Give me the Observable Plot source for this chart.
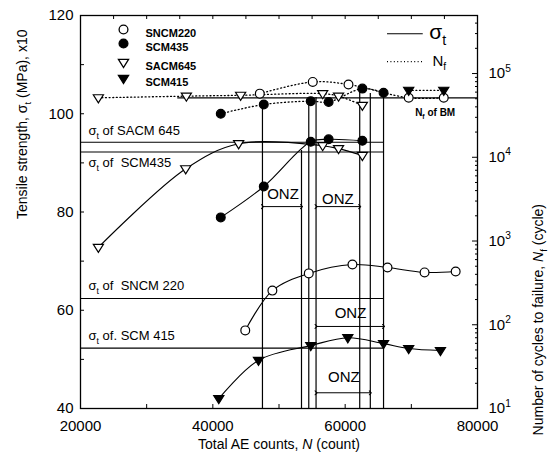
<!DOCTYPE html>
<html>
<head>
<meta charset="utf-8">
<script src="https://cdn.jsdelivr.net/npm/d3@7"></script>
<script src="https://cdn.jsdelivr.net/npm/@observablehq/plot@0.6"></script>
<style>
  html, body { margin: 0; padding: 0; background: #fff; }
  #chart svg { display: block; }
</style>
</head>
<body>
<div id="chart"></div>
<script>
// ---------- data ----------
// Tensile strength (sigma_t, MPa x10) against total AE counts N
const sncm220N  = [44900, 49000, 54500, 61100, 66400, 72000, 76700];
const sncm220St = [55.9, 64.0, 67.5, 69.3, 68.7, 67.7, 67.9];
const scm435N   = [41200, 47700, 54800, 57500, 62600];
const scm435St  = [78.9, 85.2, 94.3, 94.8, 94.5];
const sacm645N  = [22700, 35900, 43900, 56600, 59000, 62600];
const sacm645St = [72.8, 88.8, 93.9, 93.5, 92.9, 91.5];
const scm415N   = [40900, 46900, 54800, 60400, 65800, 69600, 74400];
const scm415St  = [42.0, 49.8, 52.8, 54.4, 53.2, 52.2, 51.8];

// Number of cycles to failure N_f against total AE counts N
const sncm220NfN = [47100, 55100, 60500, 69600, 74900];
const sncm220Nf  = [57500, 79400, 74100, 51300, 51300];
const scm435NfN  = [41200, 47700, 54800, 57500, 62600, 65800];
const scm435Nf   = [33100, 42700, 46800, 45700, 66100, 58900];
const sacm645NfN = [22700, 36000, 44200, 56600, 59000, 62600];
const sacm645Nf  = [51300, 53700, 55000, 57500, 53700, 41700];
const scm415NfN  = [69600, 74900];
const scm415Nf   = [63100, 63100];

// sigma_t reference levels of each steel
const refLabels = ["σ_{t} of SACM 645", "σ_{t} of  SCM435", "σ_{t} of  SNCM 220", "σ_{t} of. SCM 415"];
const refSt     = [94.2, 92.2, 62.4, 52.3];
const refEndN   = 65800;

// N_f of base metal
const bmNf = 51300;
const bmStartN = 34700;

// ONZ boundary verticals (N) and their upper ends (left-axis units)
const onzLineN   = [47500, 53400, 54500, 55600, 62200, 63800, 65800];
const onzLineTop = [101.9, 92.5, 102.7, 103.3, 105.1, 104.1, 104.3];

// ONZ spans
const onzFrom  = [47500, 55600, 55600, 55600];
const onzTo    = [53400, 62200, 65800, 63800];
const onzArrow = [81.1, 81.1, 56.7, 43.2];
const onzTextN = [50600, 58900, 60800, 59800];
const onzTextY = [83.6, 82.6, 59.4, 46.3];

// axis ticks
const xTicks = [20000, 40000, 60000, 80000];
const yTicks = [40, 60, 80, 100, 120];
const nfDecades = [1, 2, 3, 4, 5];
const legendNames = ["SNCM220", "SCM435", "SACM645", "SCM415"];

// ---------- helpers ----------
const yTopExp = 5.693; // log10 of N_f at top of the frame
const nfToY = v => 40 + (Math.log10(v) - 1) * 80 / (yTopExp - 1);
const yToExp = y => Math.round((y - 40) * (yTopExp - 1) / 80 + 1);

const triDown = {
  draw(ctx, size) {
    const w = Math.sqrt(size / Math.PI) * 1.15;
    ctx.moveTo(-w, -0.6 * w);
    ctx.lineTo(w, -0.6 * w);
    ctx.lineTo(0, 1.0 * w);
    ctx.closePath();
  }
};

const series = [
  {name: "SNCM220", N: sncm220N, st: sncm220St, nfN: sncm220NfN, nf: sncm220Nf, symbol: "circle", fill: "white"},
  {name: "SCM435", N: scm435N, st: scm435St, nfN: scm435NfN, nf: scm435Nf, symbol: "circle", fill: "black"},
  {name: "SACM645", N: sacm645N, st: sacm645St, nfN: sacm645NfN, nf: sacm645Nf, symbol: triDown, fill: "white"},
  {name: "SCM415", N: scm415N, st: scm415St, nfN: scm415NfN, nf: scm415Nf, symbol: triDown, fill: "black"}
];

const stRows = s => s.N.map((n, i) => ({x: n, y: s.st[i]}));
const nfRows = s => s.nfN.map((n, i) => ({x: n, y: nfToY(s.nf[i])}));

const minorNf = [];
for (const d of [1, 2, 3, 4, 5]) for (let m = 2; m <= 9; m++) {
  const v = m * Math.pow(10, d);
  if (Math.log10(v) <= yTopExp) minorNf.push(nfToY(v));
}

const marks = [];
// tensile curves
for (const s of series) marks.push(Plot.line(stRows(s), {x: "x", y: "y", curve: "catmull-rom", stroke: "black", strokeWidth: 1.1}));
// N_f dotted curves
for (const s of series) marks.push(Plot.line(nfRows(s), {x: "x", y: "y", curve: "catmull-rom", stroke: "black", strokeWidth: 1.3, strokeDasharray: "1,2.6", strokeLinecap: "round"}));
// reference lines
marks.push(Plot.ruleY(refSt.map(v => ({y: v, x1: 20000, x2: refEndN})), {y: "y", x1: "x1", x2: "x2", stroke: "black", strokeWidth: 1.1}));
marks.push(Plot.ruleY([{y: nfToY(bmNf), x1: bmStartN, x2: 80000}], {y: "y", x1: "x1", x2: "x2", stroke: "black", strokeWidth: 1.3}));
// ONZ verticals
marks.push(Plot.ruleX(onzLineN.map((n, i) => ({x: n, y1: 40, y2: onzLineTop[i]})), {x: "x", y1: "y1", y2: "y2", stroke: "black", strokeWidth: 1.2}));
// ONZ arrows + labels
const onz = onzFrom.map((a, i) => ({x1: a, x2: onzTo[i], y: onzArrow[i], tx: onzTextN[i], ty: onzTextY[i]}));
marks.push(Plot.link(onz, {x1: "x1", x2: "x2", y1: "y", y2: "y", stroke: "black", strokeWidth: 1, markerStart: "arrow", markerEnd: "arrow"}));
marks.push(Plot.text(onz, {x: "tx", y: "ty", text: () => "ONZ", fontSize: 15, fill: "black"}));
// markers
for (const s of series) {
  marks.push(Plot.dot(stRows(s), {x: "x", y: "y", symbol: s.symbol, r: 4.4, fill: s.fill, stroke: "black", strokeWidth: 1.2}));
  marks.push(Plot.dot(nfRows(s), {x: "x", y: "y", symbol: s.symbol, r: 4.4, fill: s.fill, stroke: "black", strokeWidth: 1.2}));
}
// reference labels
const refDy = [-11, 11, -13, -12];
refLabels.forEach((t, i) => {
  marks.push(Plot.text([t], {x: () => 20000, y: () => refSt[i], text: d => d, dx: 8, dy: refDy[i], textAnchor: "start", fontSize: 13, fill: "black"}));
});
marks.push(Plot.text(["N_{f} of BM"], {x: () => 73600, y: () => nfToY(bmNf), dy: 15, text: d => d, fontSize: 10, fontWeight: "bold", fill: "black"}));

// legend (top-left)
const legRowDy = [14, 28, 47, 63];
series.forEach((s, i) => {
  marks.push(Plot.dot([0], {frameAnchor: "top-left", dx: 43, dy: legRowDy[i], symbol: s.symbol, r: 4.4, fill: s.fill, stroke: "black", strokeWidth: 1.3}));
  marks.push(Plot.text([legendNames[i]], {frameAnchor: "top-left", dx: 65, dy: legRowDy[i], text: d => d, textAnchor: "start", fontSize: 11, fontWeight: "bold", fill: "black"}));
});
// legend (top-right)
marks.push(Plot.ruleY([{y: 116.3, x1: 66400, x2: 71800}], {y: "y", x1: "x1", x2: "x2", stroke: "black", strokeWidth: 1.1}));
marks.push(Plot.ruleY([{y: 110.6, x1: 66400, x2: 71800}], {y: "y", x1: "x1", x2: "x2", stroke: "black", strokeWidth: 1.2, strokeDasharray: "1,2.4"}));
marks.push(Plot.text(["σ_{t}"], {x: () => 72700, y: () => 116.6, text: d => d, textAnchor: "start", fontSize: 21, fill: "black"}));
marks.push(Plot.text(["N_{f}"], {x: () => 73200, y: () => 110.8, text: d => d, textAnchor: "start", fontSize: 15, fill: "black"}));

// axes
marks.push(Plot.axisY({ticks: yTicks, tickSize: 0, tickPadding: 7, fontSize: 15, label: null}));
marks.push(Plot.axisY({ticks: d3.range(40, 121, 10), tickSize: -4, tickFormat: () => "", label: null}));
marks.push(Plot.axisX({ticks: xTicks, tickSize: 0, tickPadding: 12, fontSize: 15, label: null, tickFormat: d => String(d)}));
marks.push(Plot.axisX({ticks: d3.range(20000, 80001, 10000), tickSize: -4, tickFormat: () => "", label: null}));
marks.push(Plot.axisX({anchor: "top", ticks: d3.range(20000, 80001, 5000), tickSize: -3, tickFormat: () => "", label: null}));
marks.push(Plot.axisY({anchor: "right", ticks: nfDecades.map(d => nfToY(Math.pow(10, d))), tickSize: 0, tickPadding: 11, fontSize: 15, label: null, tickFormat: y => `10^{${yToExp(y)}}`}));
marks.push(Plot.axisY({anchor: "right", ticks: nfDecades.map(d => nfToY(Math.pow(10, d))), tickSize: -6, tickFormat: () => "", label: null}));
marks.push(Plot.axisY({anchor: "right", ticks: minorNf, tickSize: -3, tickFormat: () => "", label: null}));
marks.push(Plot.frame({stroke: "black", strokeWidth: 1.3}));

// axis titles
marks.push(Plot.text(["Tensile strength, σ_{t} (MPa), x10"], {frameAnchor: "left", dx: -58, dy: 7, rotate: -90, text: d => d, fontSize: 14, fill: "black"}));
marks.push(Plot.text(["Number of cycles to failure, *N*_{f} (cycle)"], {frameAnchor: "right", dx: 61, dy: -8, rotate: -90, text: d => d, fontSize: 14, fill: "black"}));
marks.push(Plot.text(["Total AE counts, *N* (count)"], {frameAnchor: "bottom", dx: 0, dy: 40, text: d => d, fontSize: 14, fill: "black"}));

const chart = Plot.plot({
  width: 553, height: 462,
  marginLeft: 80, marginRight: 76, marginTop: 15, marginBottom: 54,
  style: {fontFamily: "'Liberation Sans', Arial, sans-serif", background: "white", color: "black", overflow: "visible"},
  x: {domain: [20000, 80000]},
  y: {domain: [40, 120]},
  marks
});
document.getElementById("chart").appendChild(chart);

// rich text: _{sub}, ^{sup}, *italic*
function richify(root) {
  root.querySelectorAll("text").forEach(el => {
    const s = el.textContent;
    if (!/[_^]\{|\*/.test(s)) return;
    const fs = parseFloat(getComputedStyle(el).fontSize) || 12;
    while (el.firstChild) el.removeChild(el.firstChild);
    const re = /([_^])\{([^}]*)\}|\*([^*]*)\*|([^_^*]+)/g;
    let m, shift = 0;
    while ((m = re.exec(s))) {
      const ts = document.createElementNS("http://www.w3.org/2000/svg", "tspan");
      let target = 0, txt, small = false, ital = false;
      if (m[1]) { txt = m[2]; small = true; target = m[1] === "_" ? 0.3 * fs : -0.45 * fs; }
      else if (m[3] !== undefined) { txt = m[3]; ital = true; }
      else txt = m[4];
      const d = target - shift;
      if (d) ts.setAttribute("dy", d.toFixed(2));
      shift = target;
      if (small) ts.setAttribute("font-size", (0.68 * fs).toFixed(1));
      if (ital) ts.setAttribute("font-style", "italic");
      ts.textContent = txt;
      el.appendChild(ts);
    }
  });
}
richify(chart);
</script>
</body>
</html>
